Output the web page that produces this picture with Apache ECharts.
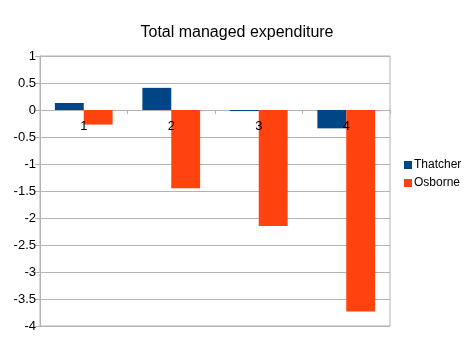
<!DOCTYPE html>
<html><head><meta charset="utf-8">
<script src="https://cdn.jsdelivr.net/npm/echarts@6/dist/echarts.min.js"></script>
<style>html,body{margin:0;padding:0;background:#fff}#c{width:474px;height:340px}</style>
</head><body><div id="c"></div>
<script>
const categories = ['1', '2', '3', '4'];
const thatcher = [0.13, 0.41, -0.02, -0.34];
const osborne = [-0.27, -1.45, -2.15, -3.73];
const yMin = -4, yMax = 1, yStep = 0.5;

const chart = echarts.init(document.getElementById('c'), null, {renderer: 'canvas'});
chart.setOption({
  animation: false,
  backgroundColor: '#fff',
  textStyle: {fontFamily: 'Liberation Sans'},
  title: {
    text: 'Total managed expenditure', left: 'center', top: 20,
    textStyle: {fontFamily: 'Liberation Sans', fontSize: 16, fontWeight: 'normal', color: '#000'}
  },
  legend: {
    orient: 'vertical', left: 399, top: 154, itemWidth: 8, itemHeight: 8, itemGap: 6,
    icon: 'rect',
    textStyle: {fontFamily: 'Liberation Sans', fontSize: 12, color: '#000', padding: [0,0,0,-3]},
    data: ['Thatcher', 'Osborne']
  },
  grid: {left: 40, right: 84, top: 56, bottom: 14, show: true, borderColor: '#b3b3b3', borderWidth: 1,
         containLabel: false, outerBoundsMode: 'none'},
  xAxis: {
    type: 'category', data: categories, position: 'bottom', offset: 0, z: 10,
    axisLine: {show: false, onZero: false, lineStyle: {color: '#b3b3b3'}},
    axisTick: {show: true, length: 4, lineStyle: {color: '#b3b3b3'}},
    axisLabel: {fontFamily: 'Liberation Sans', fontSize: 13, color: '#000', margin: 10}
  },
  yAxis: {
    type: 'value', min: yMin, max: yMax, interval: yStep,
    axisLine: {show: true, lineStyle: {color: '#b3b3b3'}},
    axisTick: {show: true, length: 5, lineStyle: {color: '#b3b3b3'}},
    splitLine: {lineStyle: {color: '#b3b3b3'}},
    axisLabel: {fontFamily: 'Liberation Sans', fontSize: 13, color: '#000', margin: 4}
  },
  series: [
    {name: 'Thatcher', type: 'bar', data: thatcher, barGap: '0%', barCategoryGap: '34%', itemStyle: {color: '#004586'}},
    {name: 'Osborne', type: 'bar', data: osborne, barGap: '0%', barCategoryGap: '34%', itemStyle: {color: '#ff420e'}}
  ]
});
// place the category axis on the value axis' zero, using the library's own scale
const zeroY = chart.convertToPixel({yAxisIndex: 0}, 0);
const bottomY = chart.convertToPixel({yAxisIndex: 0}, yMin);
chart.setOption({xAxis: {offset: zeroY - bottomY}});
</script></body></html>
